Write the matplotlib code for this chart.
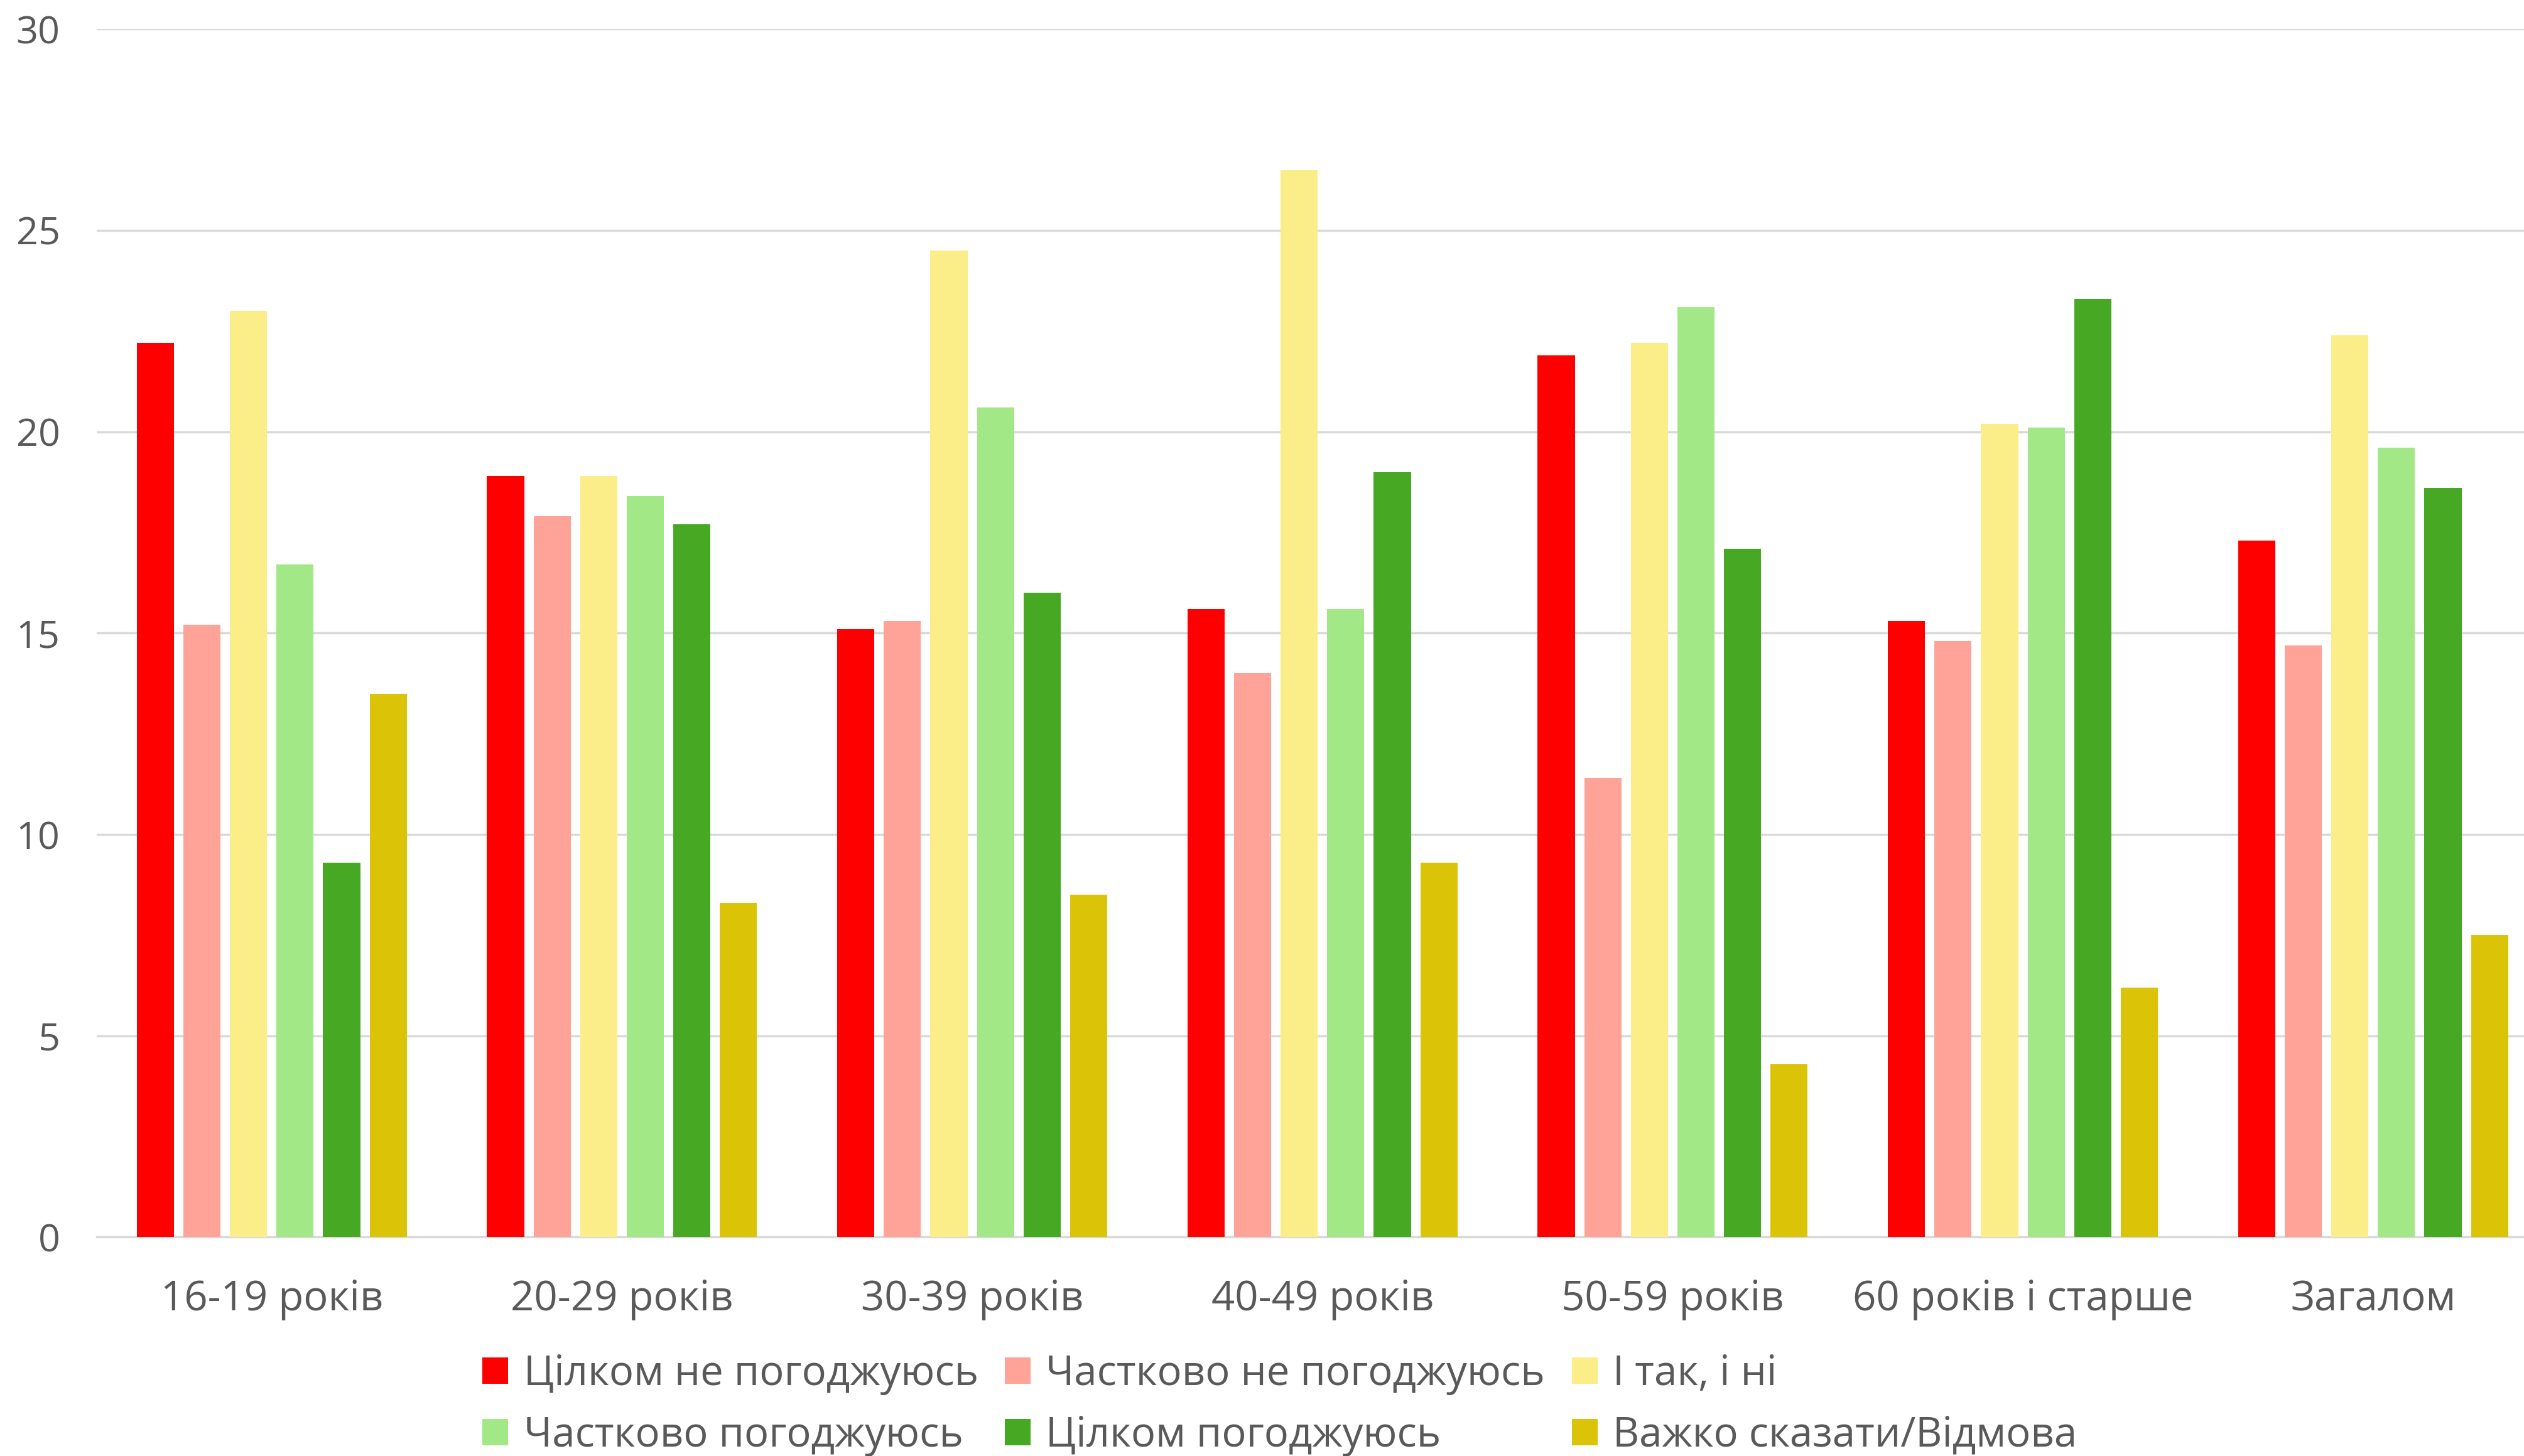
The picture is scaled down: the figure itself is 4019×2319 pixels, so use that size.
import numpy as np
import matplotlib
matplotlib.use('Agg')
import matplotlib.pyplot as plt

plt.rcParams['font.family'] = ['Open Sans', 'DejaVu Sans']

groups = ['16-19 років', '20-29 років', '30-39 років', '40-49 років',
          '50-59 років', '60 років і старше', 'Загалом']
series = ['Цілком не погоджуюсь', 'Частково не погоджуюсь', 'І так, і ні',
          'Частково погоджуюсь', 'Цілком погоджуюсь', 'Важко сказати/Відмова']

full_disagree = [22.2, 18.9, 15.1, 15.6, 21.9, 15.3, 17.3]
part_disagree = [15.2, 17.9, 15.3, 14.0, 11.4, 14.8, 14.7]
neutral = [23.0, 18.9, 24.5, 26.5, 22.2, 20.2, 22.4]
part_agree = [16.7, 18.4, 20.6, 15.6, 23.1, 20.1, 19.6]
full_agree = [9.3, 17.7, 16.0, 19.0, 17.1, 23.3, 18.6]
hard_to_say = [13.5, 8.3, 8.5, 9.3, 4.3, 6.2, 7.5]

values = [full_disagree, part_disagree, neutral, part_agree, full_agree, hard_to_say]
colors = ['#FF0000', '#FFA398', '#FBED88', '#A2E887', '#46A823', '#DBC407']

fig = plt.figure(figsize=(40.19, 23.19), dpi=100)
ax = fig.add_axes([0.0383, 0.1503, 0.9713, 0.8298])

x = np.arange(len(groups))
step = 0.133
width = 0.106
handles = []
for i, (vals, c) in enumerate(zip(values, colors)):
    b = ax.bar(x + (i - 2.5) * step, vals, width=width, color=c, label=series[i], zorder=3)
    handles.append(b)

ax.set_xlim(-0.5, len(groups) - 0.5)
ax.set_ylim(0, 30)
ax.set_yticks(np.arange(0, 31, 5))
ax.set_xticks(x)
ax.set_xticklabels(groups)
ax.yaxis.grid(True, color='#D9D9D9', linewidth=2.5, zorder=0)
ax.set_axisbelow(True)
for s in ['top', 'right', 'left']:
    ax.spines[s].set_visible(False)
ax.spines['bottom'].set_color('#D9D9D9')
ax.spines['bottom'].set_linewidth(2.5)
ax.tick_params(axis='both', length=0, labelcolor='#595959')
ax.tick_params(axis='y', pad=42, labelsize=44)
ax.tick_params(axis='x', pad=48, labelsize=47)

order = [0, 3, 1, 4, 2, 5]
fig.legend([handles[i] for i in order], [series[i] for i in order],
           loc='center', bbox_to_anchor=(0.507, 0.035), ncol=3, frameon=False,
           fontsize=47, labelcolor='#595959', handlelength=0.63, handleheight=0.63,
           handletextpad=0.37, columnspacing=0.65, labelspacing=0.49)

fig.savefig('out.png', dpi=100)
